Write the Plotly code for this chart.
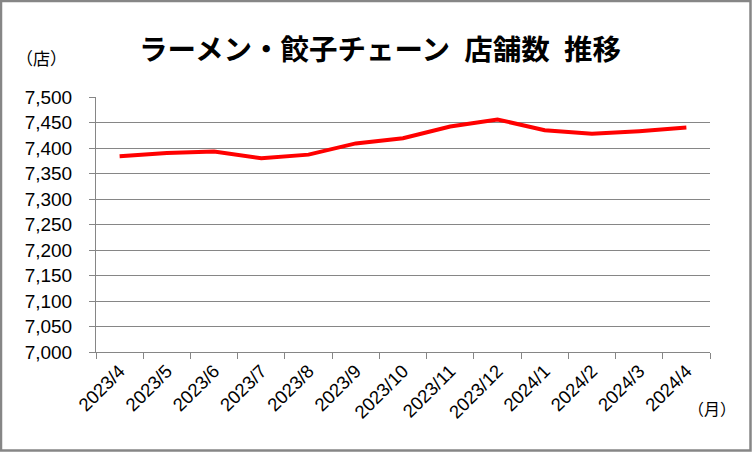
import plotly.graph_objects as go

months = ["2023/4", "2023/5", "2023/6", "2023/7", "2023/8", "2023/9", "2023/10",
          "2023/11", "2023/12", "2024/1", "2024/2", "2024/3", "2024/4"]
stores = [7384, 7390, 7393, 7380, 7387, 7409, 7419, 7442, 7456, 7435, 7428, 7433, 7440]
y_ticks = list(range(7000, 7501, 50))
y_tick_labels = [f"{v:,}" for v in y_ticks]

title_text = "ラーメン・餃子チェーン\u2002店舗数\u2002推移"
y_unit = "（店）"
x_unit = "（月）"

JP = "Noto Sans CJK JP"
LAT = "Liberation Sans, Arial, sans-serif"

fig = go.Figure()
fig.add_trace(go.Scatter(
    x=months, y=stores, mode="lines",
    line=dict(color="#ff0000", width=4),
    hoverinfo="x+y",
))

fig.update_layout(
    width=752, height=452,
    margin=dict(l=96, r=42, t=97, b=100),
    paper_bgcolor="white", plot_bgcolor="white",
    showlegend=False,
    title=dict(text=f"<b>{title_text}</b>", x=380 / 752, xanchor="center",
               y=1 - 50 / 452, yanchor="middle", yref="container",
               font=dict(family=JP, size=28.5, color="black")),
    xaxis=dict(
        type="category", tickson="boundaries", ticks="outside", ticklen=6,
        tickcolor="#868686", showline=True, linecolor="#868686", linewidth=1,
        showgrid=False, tickangle=-45,
        tickfont=dict(family=LAT, size=18.5, color="black"),
        range=[-0.5, len(months) - 0.5],
    ),
    yaxis=dict(
        range=[7000, 7500], tickvals=y_ticks, ticktext=y_tick_labels,
        ticks="outside", ticklen=6, tickcolor="#868686",
        showline=True, linecolor="#868686", linewidth=1,
        showgrid=True, gridcolor="#868686", gridwidth=1,
        tickfont=dict(family=LAT, size=19, color="black"),
        ticklabelstandoff=13, zeroline=False,
    ),
    annotations=[
        dict(text=y_unit, xref="paper", yref="paper", x=(41 - 96) / 614, y=1 + 40 / 255,
             xanchor="center", yanchor="middle", showarrow=False,
             font=dict(family=JP, size=17, color="black")),
        dict(text=x_unit, xref="paper", yref="paper", x=(712 - 96) / 614, y=-56 / 255,
             xanchor="center", yanchor="middle", showarrow=False,
             font=dict(family=JP, size=16, color="black")),
    ],
    shapes=[
        dict(type="rect", xref="paper", yref="paper",
             x0=-96 / 614 + 1 / 614, x1=1 + 42 / 614 - 1.5 / 614,
             y0=-100 / 255 + 1.5 / 255, y1=1 + 97 / 255 - 1 / 255,
             line=dict(color="#868686", width=2.5), layer="above"),
    ],
)

fig.write_html("out.html")
